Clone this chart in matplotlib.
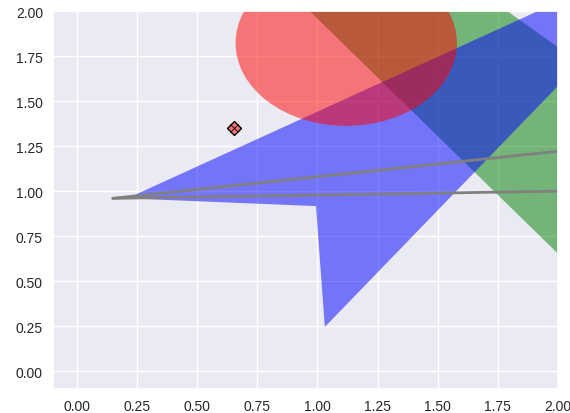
import matplotlib
matplotlib.use("Agg")
import matplotlib.pyplot as plt
import seaborn as sns
from matplotlib.patches import Polygon, Circle

# shapes (data coordinates, vertices outside the view are simply clipped)
green_xy = [(0.816, 2.2), (1.58, 2.2), (2.2, 1.61), (2.2, 0.391)]
blue_xy = [(0.21, 0.96), (0.994, 0.917), (1.031, 0.245), (2.3, 2.0), (2.3, 2.235)]
circle_center = (1.12, 1.823)
circle_radius = 0.46

# gray lines
line_x = [0.15, 2.0]
line1_y = [0.96, 1.222]
line2_y = [0.96, 1.0]

# marker
marker_x = [0.654]
marker_y = [1.351]

xticks = [0.0, 0.25, 0.5, 0.75, 1.0, 1.25, 1.5, 1.75, 2.0]
yticks = [0.0, 0.25, 0.5, 0.75, 1.0, 1.25, 1.5, 1.75, 2.0]

sns.set_theme(style="darkgrid")
plt.rcParams['font.family'] = ['Liberation Sans', 'DejaVu Sans']

fig = plt.figure(figsize=(5.7, 4.14), dpi=100)
ax = fig.add_axes([52.7 / 570, 24 / 414, (558 - 52.7) / 570, (390 - 12.3) / 414])

ax.add_patch(Polygon(green_xy, closed=True, facecolor='green', alpha=0.5, edgecolor='none'))
ax.add_patch(Polygon(blue_xy, closed=True, facecolor='blue', alpha=0.5, edgecolor='none'))
ax.add_patch(Circle(circle_center, circle_radius, facecolor='red', alpha=0.5, edgecolor='none'))

ax.plot(line_x, line1_y, color='gray', lw=2)
ax.plot(line_x, line2_y, color='gray', lw=2)

ax.plot(marker_x, marker_y, marker='D', ms=7, mfc=(0.96, 0.45, 0.45), mec='black', mew=1, ls='none')
ax.plot(marker_x, marker_y, marker='x', ms=5.5, mec='black', mew=0.6, ls='none')

ax.set_xlim(-0.1, 2.0)
ax.set_ylim(-0.1, 2.0)
ax.set_xticks(xticks)
ax.set_yticks(yticks)
ax.set_xticklabels([f"{t:.2f}" for t in xticks])
ax.set_yticklabels([f"{t:.2f}" for t in yticks])
ax.tick_params(length=0, pad=7, labelsize=10, colors='.15')

fig.savefig("out.png", dpi=100)
